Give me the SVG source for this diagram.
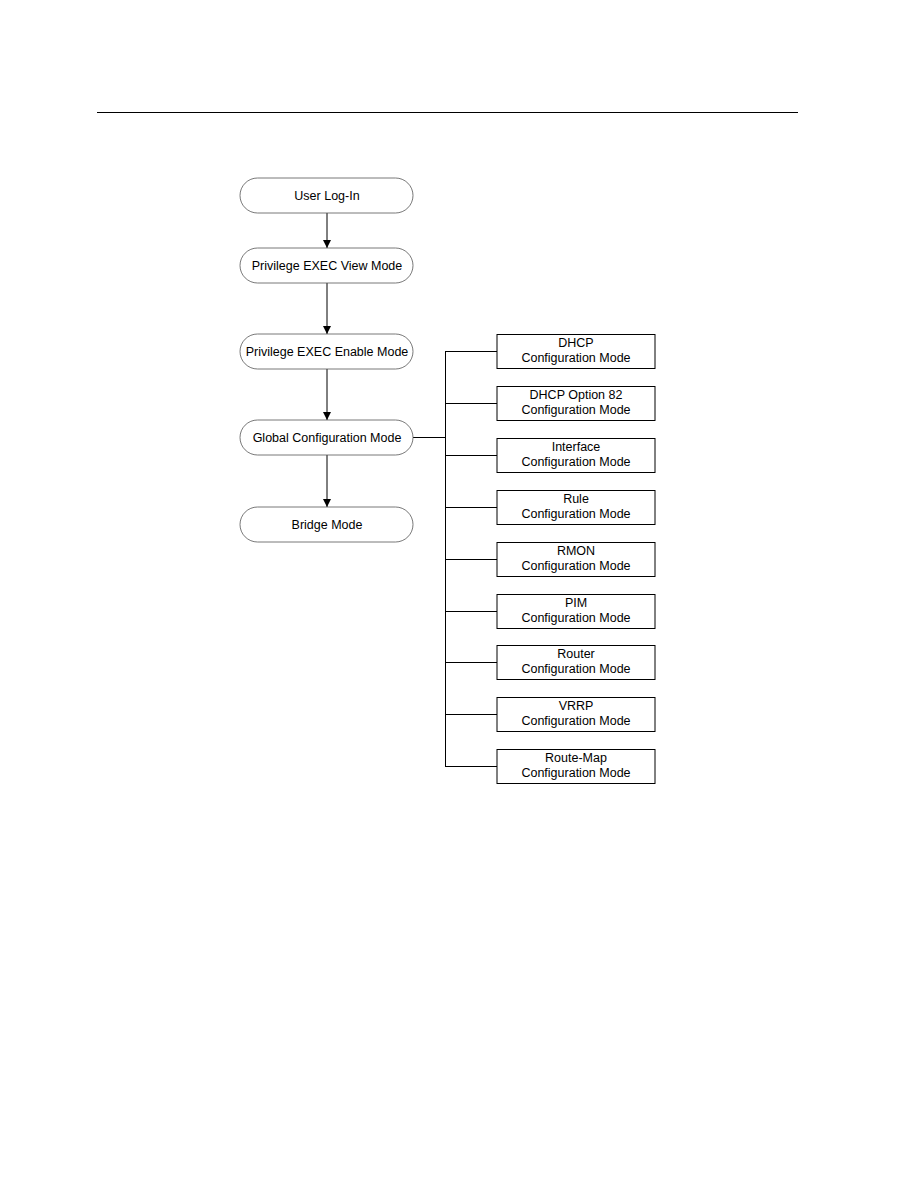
<svg xmlns="http://www.w3.org/2000/svg" width="918" height="1188" viewBox="0 0 918 1188">
<style>
.pill{fill:#fff;stroke:#555;stroke-width:0.8}
.box{fill:#fff;stroke:#000;stroke-width:1}
.t{font-family:"Liberation Sans",Arial,sans-serif;font-size:12.5px;fill:#000;text-anchor:middle}
.c{stroke:#000;stroke-width:1;fill:none}
</style>
<defs>
<marker id="ah" viewBox="0 0 10 10" refX="10" refY="5" markerWidth="8" markerHeight="10" markerUnits="userSpaceOnUse" orient="auto">
<path d="M0,0 L10,5 L0,10 z" fill="#000"/>
</marker>
</defs>
<rect width="918" height="1188" fill="#fff"/>
<line x1="97" y1="112.5" x2="798" y2="112.5" stroke="#000" stroke-width="1.2"/>
<g id="connectors">
<line class="c" x1="327" y1="213" x2="327" y2="248" marker-end="url(#ah)"/>
<line class="c" x1="327" y1="283" x2="327" y2="334" marker-end="url(#ah)"/>
<line class="c" x1="327" y1="369" x2="327" y2="420" marker-end="url(#ah)"/>
<line class="c" x1="327" y1="455" x2="327" y2="507" marker-end="url(#ah)"/>
<line class="c" x1="413" y1="437.5" x2="445" y2="437.5"/>
<line class="c" x1="445.5" y1="351" x2="445.5" y2="766"/>
<line class="c" x1="445" y1="351.5" x2="497" y2="351.5"/>
<line class="c" x1="445" y1="403.5" x2="497" y2="403.5"/>
<line class="c" x1="445" y1="455.5" x2="497" y2="455.5"/>
<line class="c" x1="445" y1="507.5" x2="497" y2="507.5"/>
<line class="c" x1="445" y1="559.5" x2="497" y2="559.5"/>
<line class="c" x1="445" y1="611.5" x2="497" y2="611.5"/>
<line class="c" x1="445" y1="662.5" x2="497" y2="662.5"/>
<line class="c" x1="445" y1="714.5" x2="497" y2="714.5"/>
<line class="c" x1="445" y1="766.5" x2="497" y2="766.5"/>
</g>
<g id="user-login"><rect class="pill" x="240" y="178" width="173" height="35" rx="17.5"/><text class="t" x="327" y="200">User Log-In</text></g>
<g id="priv-view"><rect class="pill" x="240" y="248" width="173" height="35" rx="17.5"/><text class="t" x="327" y="270">Privilege EXEC View Mode</text></g>
<g id="priv-enable"><rect class="pill" x="240" y="334" width="173" height="35" rx="17.5"/><text class="t" x="327" y="356">Privilege EXEC Enable Mode</text></g>
<g id="global"><rect class="pill" x="240" y="420" width="173" height="35" rx="17.5"/><text class="t" x="327" y="442">Global Configuration Mode</text></g>
<g id="bridge"><rect class="pill" x="240" y="507" width="173" height="35" rx="17.5"/><text class="t" x="327" y="529">Bridge Mode</text></g>
<g id="dhcp"><rect class="box" x="497" y="334.5" width="158" height="34"/><text class="t" x="576" y="347">DHCP</text><text class="t" x="576" y="362">Configuration Mode</text></g>
<g id="opt82"><rect class="box" x="497" y="386.5" width="158" height="34"/><text class="t" x="576" y="399">DHCP Option 82</text><text class="t" x="576" y="414">Configuration Mode</text></g>
<g id="interface"><rect class="box" x="497" y="438.5" width="158" height="34"/><text class="t" x="576" y="451">Interface</text><text class="t" x="576" y="466">Configuration Mode</text></g>
<g id="rule"><rect class="box" x="497" y="490.5" width="158" height="34"/><text class="t" x="576" y="503">Rule</text><text class="t" x="576" y="518">Configuration Mode</text></g>
<g id="rmon"><rect class="box" x="497" y="542.5" width="158" height="34"/><text class="t" x="576" y="555">RMON</text><text class="t" x="576" y="570">Configuration Mode</text></g>
<g id="pim"><rect class="box" x="497" y="594.5" width="158" height="34"/><text class="t" x="576" y="607">PIM</text><text class="t" x="576" y="622">Configuration Mode</text></g>
<g id="router"><rect class="box" x="497" y="645.5" width="158" height="34"/><text class="t" x="576" y="658">Router</text><text class="t" x="576" y="673">Configuration Mode</text></g>
<g id="vrrp"><rect class="box" x="497" y="697.5" width="158" height="34"/><text class="t" x="576" y="710">VRRP</text><text class="t" x="576" y="725">Configuration Mode</text></g>
<g id="routemap"><rect class="box" x="497" y="749.5" width="158" height="34"/><text class="t" x="576" y="762">Route-Map</text><text class="t" x="576" y="777">Configuration Mode</text></g>
</svg>
